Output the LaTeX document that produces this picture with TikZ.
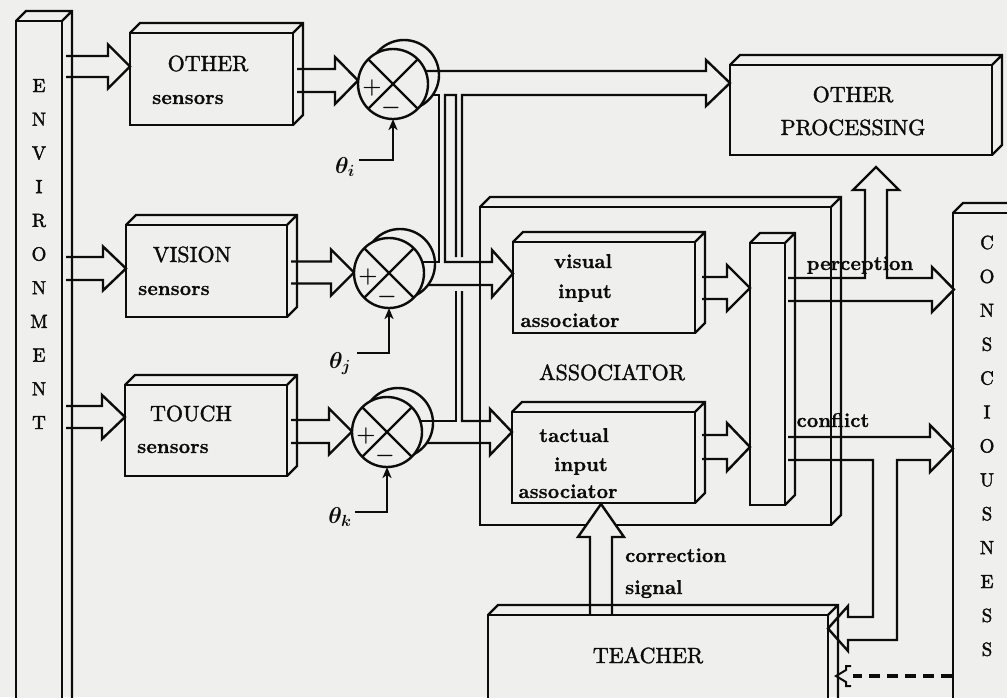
\RequirePackage{fix-cm}
\documentclass[tikz,border=0pt]{standalone}
\usepackage{fontspec}
\usepackage{bm}
\usetikzlibrary{arrows.meta}
\newfontface\capfont[FakeBold=1.6]{lmroman10-regular.otf}
\newfontface\ltrfont[FakeBold=2.0]{lmroman10-regular.otf}
\newfontface\lowfont[FakeBold=0.8]{lmroman10-bold.otf}
\definecolor{paper}{RGB}{239,239,237}
\definecolor{ink}{RGB}{12,12,12}
\tikzset{
  ln/.style={draw=ink, line width=2.4pt, line join=miter},
  slab/.style={draw=ink, line width=2.4pt, inner sep=0pt, outer sep=0pt, anchor=north west, fill=paper},
  junc/.style={circle, draw=ink, line width=2.4pt, fill=paper, minimum size=70pt, inner sep=0pt, outer sep=0pt},
  captxt/.style={font=\capfont\fontsize{22}{26}\selectfont, anchor=base, text=ink, inner sep=0pt},
  lowtxt/.style={font=\lowfont\fontsize{20}{24}\selectfont, anchor=base, text=ink, inner sep=0pt},
  ltrtxt/.style={font=\ltrfont\fontsize{19}{22}\selectfont, anchor=base, text=ink, inner sep=0pt},
  signtxt/.style={font=\fontsize{22}{24}\selectfont, text=ink, inner sep=0pt},
  thtxt/.style={font=\fontsize{23}{26}\selectfont, anchor=base, text=ink, inner sep=0pt},
  tharr/.style={ln, -{Stealth[length=11pt,width=9pt,inset=3pt]}},
}
% box with depth faces: name, x1, y1, x2, y2 (front face, image coordinates)
\newcommand\slabbox[5]{%
  \node[slab, minimum width={(#4-#2)*1pt}, minimum height={(#5-#3)*1pt}] (#1) at (#2,#3) {};
  \draw[ln] (#1.north west) -- ++(10,-10) -- ++({#4-#2},0) -- ++(0,{#5-#3}) -- (#1.south east)
            (#1.north east) -- ++(10,-10);
}
% summing junction: name, x, y
\newcommand\sumjunc[3]{%
  \node[junc] (#1b) at (#2+11,#3-9) {};
  \node[junc] (#1) at (#2,#3) {};
  \draw[ln] (#1.45) -- (#1.225) (#1.135) -- (#1.315);
  \node[signtxt] (#1p) at ([shift={(-21,4)}]#1) {$\bm{+}$};
  \node[signtxt] (#1m) at ([shift={(-2,24)}]#1) {$\bm{-}$};
}
% hollow arrow to the right: xstart, ycentre, xhead, xtip, half shaft, half head
\newcommand\harrow[6]{%
  \draw[ln] (#1,#2-#5) -- (#3,#2-#5) -- (#3,#2-#6) -- (#4,#2) -- (#3,#2+#6) -- (#3,#2+#5) -- (#1,#2+#5);
}
\begin{document}
\begin{tikzpicture}[x=1pt,y=-1pt]
\path[fill=paper, use as bounding box] (0,0) rectangle (1007,697);
\clip (0,0) rectangle (1007,697);

% ENVIRONMENT column
\slabbox{env}{16}{21}{62}{740}
\foreach \l [count=\i from 0] in {E,N,V,I,R,O,N,M,E,N,T}
  \node[ltrtxt] (env\i) at (39,92+33.7*\i) {\l};

% sensor boxes
\slabbox{oth}{130}{33}{293}{125}
\slabbox{vis}{126}{225}{287}{317}
\slabbox{tou}{125}{385}{287}{476}

% associator group
\slabbox{asc}{480}{207}{831}{525}
\slabbox{via}{513}{242}{695}{333}
\slabbox{tia}{512}{412}{695}{503}
\slabbox{cmp}{750}{243}{785}{505}

% other processing, consciousness
\slabbox{opr}{730}{65}{992}{155}
\slabbox{con}{953}{213}{1060}{740}

% correction signal arrow (hides the associator's lower edge)
\draw[ln, fill=paper] (590,614) -- (590,537) -- (578,537) -- (601,504) -- (624,537) -- (612,537) -- (612,614);

% teacher
\slabbox{tch}{488}{615}{828}{740}

% environment -> sensors
\harrow{66}{66.5}{108}{130}{10.5}{22}
\harrow{66}{268.5}{103}{126}{11.5}{22}
\harrow{66}{417}{102}{125}{11}{22}

% sensors -> junctions
\harrow{297}{80.5}{335}{358}{11.5}{23.5}
\harrow{291}{272.5}{331}{354}{11}{23}
\harrow{291}{431.5}{329}{352}{11.5}{23}

% summing junctions
\sumjunc{c1}{393}{84}
\sumjunc{c2}{389}{273}
\sumjunc{c3}{387}{432}

% thresholds
\node[thtxt] (thi) at (345,173) {$\bm{\theta_i}$};
\node[thtxt] (thj) at (340,368) {$\bm{\theta_j}$};
\node[thtxt] (thk) at (340,523) {$\bm{\theta_k}$};
\coordinate (ti) at (359,160);
\coordinate (tj) at (357,353);
\coordinate (tk) at (355,512);
\draw[tharr] (ti) -| (c1.south);
\draw[tharr] (tj) -| (c2.south);
\draw[tharr] (tk) -| (c3.south);

% junction outputs and splitting pipes
\draw[ln] (425.5,71) -- (706,71) -- (706,60) -- (730,83) -- (706,106) -- (706,95) -- (462,95) -- (462,257);
\draw[ln] (432.7,95) -- (439,95) -- (439,262) -- (422,262);
\draw[ln] (456,257) -- (456,95) -- (445,95) -- (445,262) -- (492,262) -- (492,250) -- (513,273.5)
          -- (492,297) -- (492,285) -- (428,285);
\draw[ln] (462,291) -- (462,421) -- (490,421) -- (490,409) -- (512,432) -- (490,455) -- (490,443) -- (426.7,443);
\draw[ln] (420.2,421) -- (456,421) -- (456,291);

% input associators -> comparator
\harrow{702}{288}{727}{750}{11}{23}
\harrow{702}{447}{727}{750}{12}{24}

% perception
\draw[ln] (788,278) -- (865,278) -- (865,190) -- (853,190) -- (876,167) -- (899,190) -- (887,190)
          -- (887,278) -- (932,278) -- (932,267) -- (954,289.5) -- (932,312) -- (932,301) -- (788,301);
% conflict
\draw[ln] (788,437) -- (930,437) -- (930,425) -- (953,448.5) -- (930,472) -- (930,460) -- (897,460)
          -- (897,640) -- (848,640) -- (848,651) -- (828,628.5) -- (848,606) -- (848,617) -- (873,617)
          -- (873,460) -- (788,460);

% dashed feedback from consciousness to teacher
\draw[draw=ink, line width=3.4pt, dash pattern=on 11pt off 7pt] (952,676) -- (853,676);
\draw[ln, line width=2pt] (851,666) -- (846,666) -- (846,670) -- (836,676) -- (846,682) -- (846,686) -- (851,686);

% texts
\node[captxt] (othT) at (208,71) {OTHER};
\node[lowtxt] (othS) at (188,104) {sensors};
\node[captxt] (visT) at (192,262) {VISION};
\node[lowtxt] (visS) at (174,295) {sensors};
\node[captxt] (touT) at (191,421) {TOUCH};
\node[lowtxt] (touS) at (173,453) {sensors};
\node[captxt] (ascT) at (612,380) {ASSOCIATOR};
\node[lowtxt] (via1) at (583,268) {visual};
\node[lowtxt] (via2) at (585,298) {input};
\node[lowtxt] (via3) at (570,327) {associator};
\node[lowtxt] (tia1) at (574,442) {tactual};
\node[lowtxt] (tia2) at (581,471) {input};
\node[lowtxt] (tia3) at (568,498) {associator};
\node[captxt] (opr1) at (853,102) {OTHER};
\node[captxt] (opr2) at (853,135) {PROCESSING};
\node[captxt] (tchT) at (648,663) {TEACHER};
\node[lowtxt] (perc) at (860,270) {perception};
\node[lowtxt] (conf) at (833,427) {conflict};
\node[lowtxt, anchor=base west] (corr1) at (625,562) {correction};
\node[lowtxt, anchor=base west] (corr2) at (625,594) {signal};
\foreach \l [count=\i from 0] in {C,O,N,S,C,I,O,U,S,N,E,S,S}
  \node[ltrtxt] (con\i) at (987,249+33.9*\i) {\l};
\end{tikzpicture}
\end{document}
